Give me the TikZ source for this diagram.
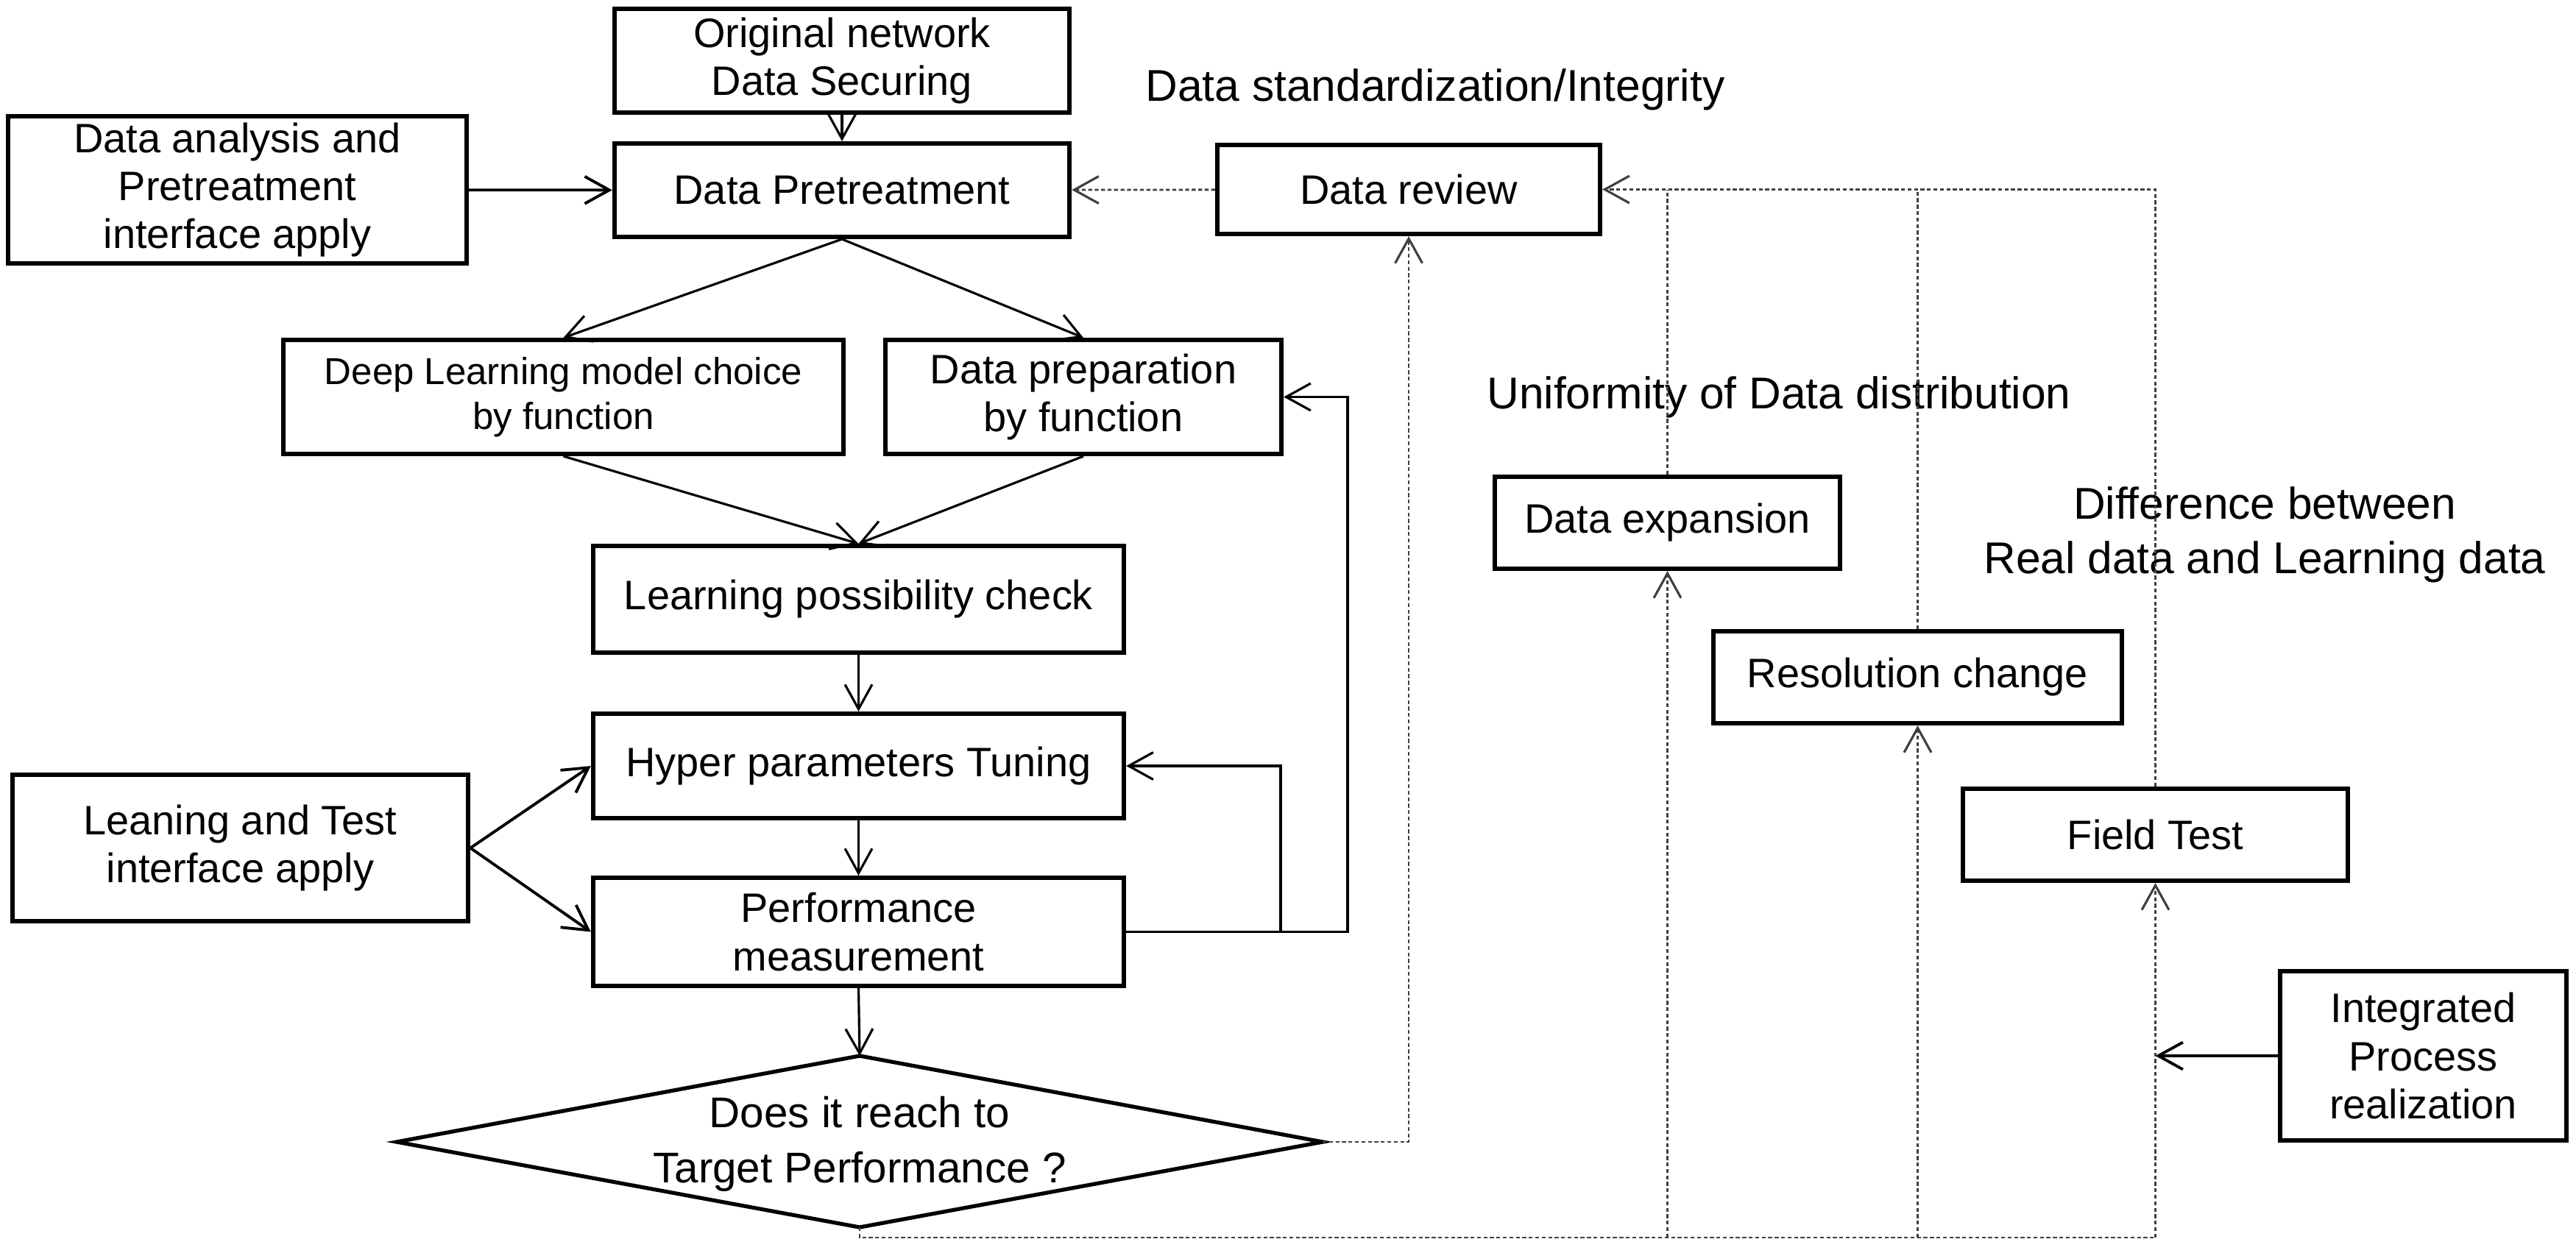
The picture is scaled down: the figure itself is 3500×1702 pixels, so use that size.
\documentclass[tikz,border=0pt]{standalone}
\usepackage{fontspec}
\setmainfont{Liberation Sans}
\usetikzlibrary{arrows.meta,calc}
\newcommand\boxfont{\fontsize{15.9pt}{18.5pt}\selectfont}
\newcommand\smallboxfont{\fontsize{14.5pt}{17.4pt}\selectfont}
\newcommand\diafont{\fontsize{16.6pt}{21.5pt}\selectfont}
\newcommand\lblfont{\fontsize{17.2pt}{21pt}\selectfont}
\begin{document}
\begin{tikzpicture}[x=0.01cm,y=-0.01cm,
  box/.style={draw,line width=1.7pt,inner sep=0pt,align=center,font=\boxfont},
  arr/.style={-{Straight Barb[length=9.5pt,width=10.5pt]},line width=0.9pt},
  dot/.style={line width=0.8pt,draw=black!75,dash pattern=on 1.5pt off 1pt},
  darr/.style={dot,-{Straight Barb[length=9.5pt,width=10.5pt,line width=0.9pt]}},
  lbl/.style={font=\lblfont,inner sep=0pt,align=center}]
\useasboundingbox (0,0) rectangle (3500,1702);

% boxes
\node[box,minimum width=6.18cm,minimum height=1.41cm] (orig) at (1144,82.5) {Original network\\Data Securing};
\node[box,minimum width=6.18cm,minimum height=1.27cm] (pre) at (1144,258.5) {Data Pretreatment};
\node[box,minimum width=6.23cm,minimum height=2.00cm] (ana) at (322.5,258) {Data analysis and\\Pretreatment\\interface apply};
\node[box,minimum width=5.20cm,minimum height=1.21cm] (rev) at (1914,257.5) {Data review};
\node[box,minimum width=7.61cm,minimum height=1.55cm,font=\smallboxfont] (deep) at (765.5,539.5) {Deep Learning model choice\\by function};
\node[box,minimum width=5.38cm,minimum height=1.55cm] (prep) at (1472,539.5) {Data preparation\\by function};
\node[box,minimum width=7.21cm,minimum height=1.45cm] (chk) at (1166.5,814.5) {Learning possibility check};
\node[box,minimum width=7.21cm,minimum height=1.42cm] (hyp) at (1166.5,1041) {Hyper parameters Tuning};
\node[box,minimum width=7.21cm,minimum height=1.47cm] (perf) at (1166.5,1266.5) {Performance\\measurement};
\node[box,minimum width=6.19cm,minimum height=1.99cm] (lean) at (326.5,1152.5) {Leaning and Test\\interface apply};
\node[box,minimum width=4.69cm,minimum height=1.25cm] (exp) at (2265.5,710.5) {Data expansion};
\node[box,minimum width=5.55cm,minimum height=1.25cm] (res) at (2605.5,920.5) {Resolution change};
\node[box,minimum width=5.23cm,minimum height=1.25cm] (fld) at (2928.5,1134.5) {Field Test};
\node[box,minimum width=3.89cm,minimum height=2.30cm] (int) at (3292.5,1435) {Integrated\\Process\\realization};

% decision diamond
\coordinate (dt) at (1168,1435);
\coordinate (dr) at (1797,1552);
\coordinate (db) at (1168,1668);
\coordinate (dl) at (539,1552);
\draw[line width=1.5pt,line join=miter] (dt) -- (dr) -- (db) -- (dl) -- cycle;
\node[font=\diafont,align=center,inner sep=0pt] (dia) at (1168,1555) {Does it reach to\\Target Performance ?};

% labels
\node[lbl] (l1) at (1950,122) {Data standardization/Integrity};
\node[lbl] (l2) at (2417,540) {Uniformity of Data distribution};
\node[lbl] (l3) at (3077,727) {Difference between\\Real data and Learning data};

% solid connectors
\draw[arr] (orig) -- (pre);
\draw[arr,line width=1.1pt] (ana) -- (pre);
\draw[arr] (pre.south) -- (deep.north);
\draw[arr] (pre.south) -- (prep.north);
\draw[arr] (deep.south) -- (chk.north);
\draw[arr] (prep.south) -- (chk.north);
\draw[arr] (chk) -- (hyp);
\draw[arr] (hyp) -- (perf);
\draw[arr,line width=1.1pt] (lean.east) -- (hyp.west);
\draw[arr,line width=1.1pt] (lean.east) -- (perf.west);
\draw[arr] (perf.south) -- (dt);
\coordinate (j1) at (1740,1266.5);
\coordinate (j2) at (1831,1266.5);
\draw[arr] (perf.east) -- (j1) |- (hyp.east);
\draw[arr] (j1) -- (j2) |- (prep.east);
\draw[arr,line width=1.1pt] (int.west) -- (int.west -| fld.south);

% dotted connectors
\draw[darr] (rev) -- (pre);
\coordinate (r1) at (1914,1552);
\draw[darr] (dr) -- (r1) -- (rev.south);
\coordinate (b0) at (1168,1682);
\coordinate (b1) at (2265.5,1682);
\coordinate (b2) at (2605.5,1682);
\coordinate (b3) at (2928.5,1682);
\draw[dot] (db) -- (b0) -- (b3);
\draw[darr] (b1) -- (exp.south);
\draw[darr] (b2) -- (res.south);
\draw[darr] (b3) -- (fld.south);
\coordinate (t1) at (2265.5,257.5);
\coordinate (t2) at (2605.5,257.5);
\coordinate (t3) at (2928.5,257.5);
\draw[dot] (exp.north) -- (t1);
\draw[dot] (res.north) -- (t2);
\draw[darr] (fld.north) -- (t3) -- (rev.east);
\end{tikzpicture}
\end{document}
